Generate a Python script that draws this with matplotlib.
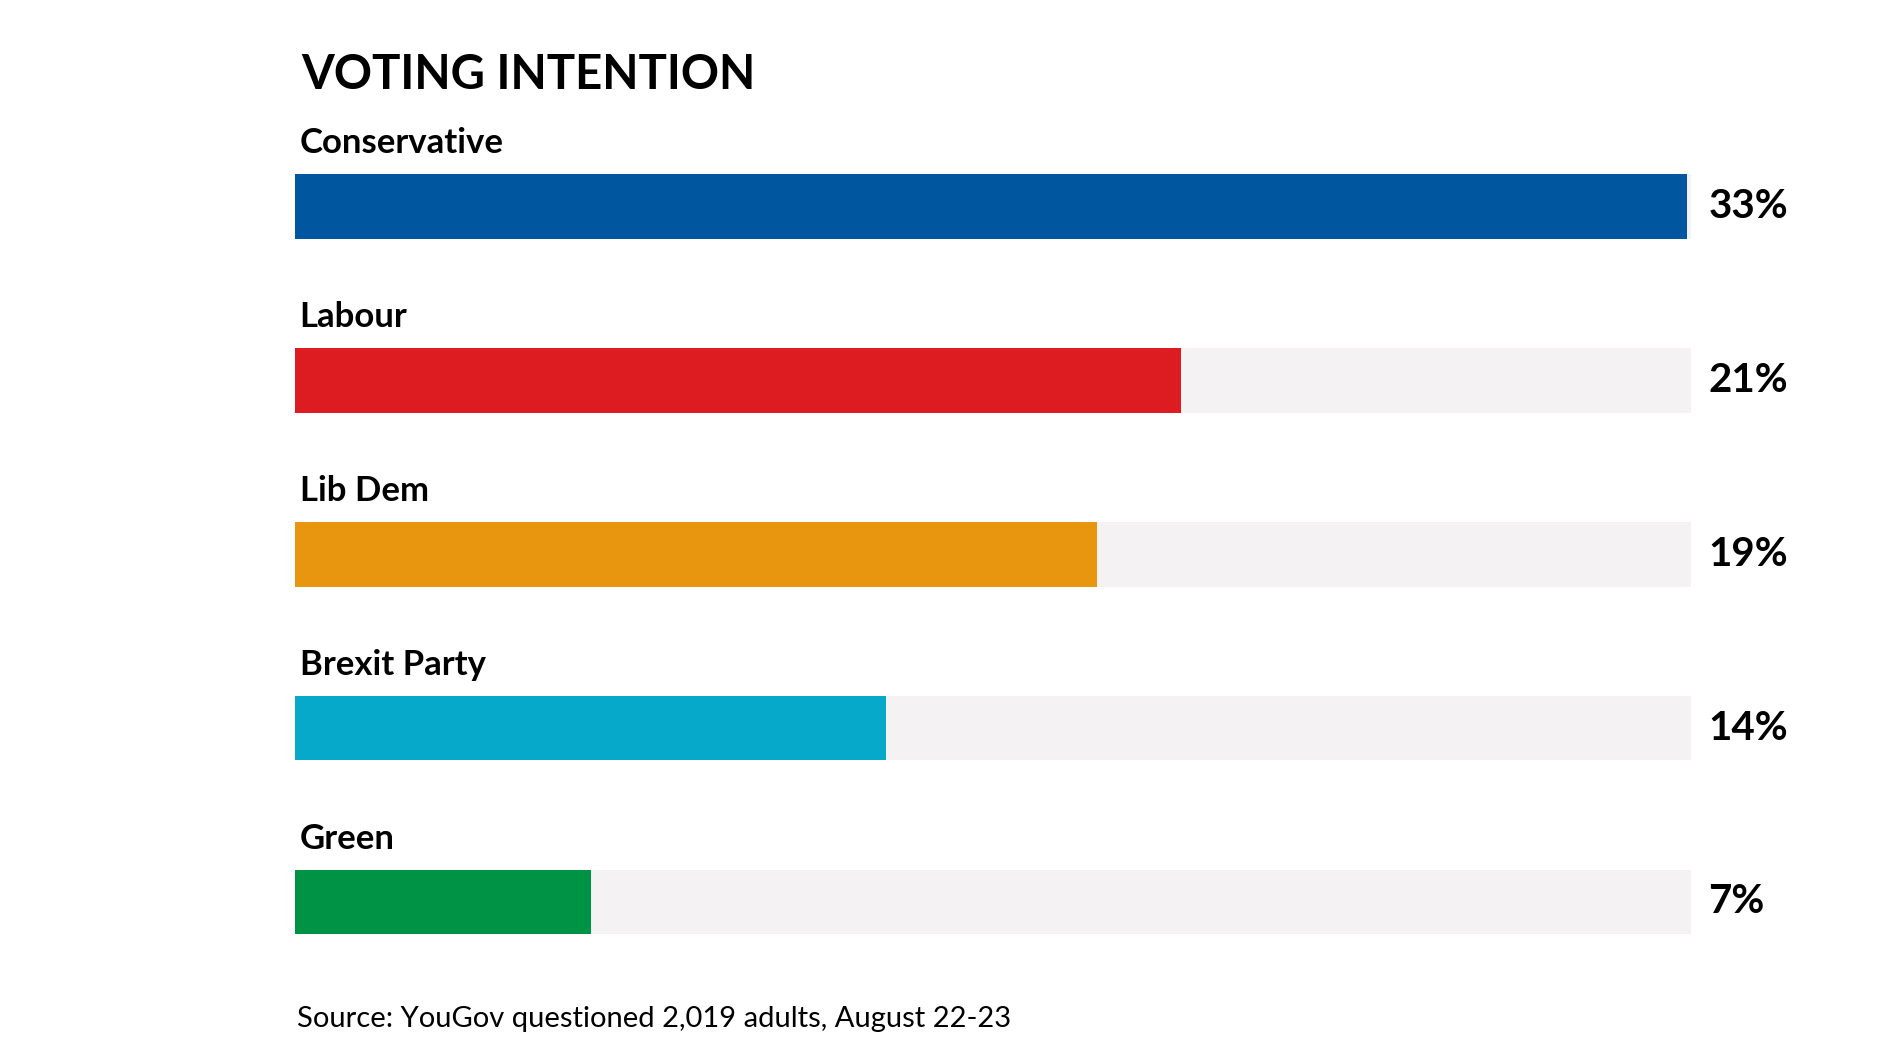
import matplotlib.pyplot as plt

parties = ["Conservative", "Labour", "Lib Dem", "Brexit Party", "Green"]
values = [33, 21, 19, 14, 7]
colors = ["#0057a0", "#dc1c21", "#e8960f", "#06a9c9", "#009245"]
track_max = 33.1

plt.rcParams['font.family'] = ['Lato', 'DejaVu Sans']
fig = plt.figure(figsize=(18.94, 10.40), dpi=100)
ax = fig.add_axes([0.156, 0.1015, 0.737, 0.7315])

h = 0.373
ys = list(range(len(parties)))
ax.barh(ys, [track_max] * len(ys), height=h, color="#f4f2f2")
ax.barh(ys, values, height=h, color=colors)
for y, name, v in zip(ys, parties, values):
    ax.text(0.1, y - 0.36, name, fontsize=25, fontweight='bold', va='center', ha='left')
    ax.text(33.5, y, f"{v}%", fontsize=29, fontweight='bold', va='center', ha='left')

ax.set_xlim(0, 33.1)
ax.set_ylim(4 + h / 2, -h / 2)
ax.axis('off')

fig.text(0.159, 0.928, "VOTING INTENTION", fontsize=34, fontweight='bold', va='center')
fig.text(0.157, 0.02, "Source: YouGov questioned 2,019 adults, August 22-23", fontsize=21, va='center')

fig.savefig("out.png", dpi=100, facecolor='white')
